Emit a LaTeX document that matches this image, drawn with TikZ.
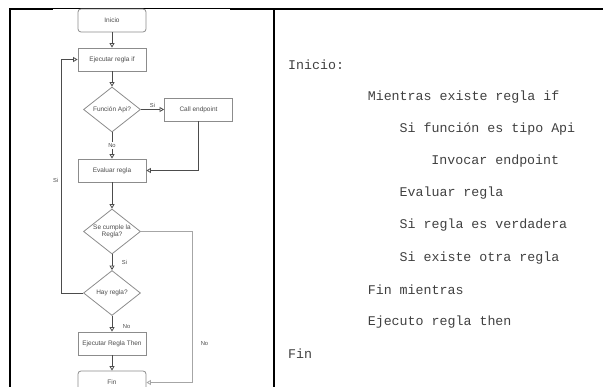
\documentclass[tikz,border=0pt]{standalone}
\usepackage{fontspec}
\setmainfont{Liberation Sans}
\newfontfamily\codefont{Liberation Mono}
\usetikzlibrary{positioning,shapes.geometric,arrows.meta}

\tikzset{
  procbox/.style={draw=black!45, line width=0.8pt, minimum width=68pt, minimum height=23pt,
    inner sep=1pt, font=\fontsize{6.5}{7.5}\selectfont, text=black!70},
  termbox/.style={procbox, rounded corners=3pt},
  decision/.style={diamond, draw=black!45, line width=0.8pt, minimum width=57pt, minimum height=45pt,
    inner sep=0pt, shape aspect=1.27, align=center, font=\fontsize{6.5}{7.5}\selectfont, text=black!70},
  flow/.style={draw=black!70, line width=0.8pt, -{Triangle[open,length=4.5pt,width=5pt]}},
  lbl/.style={font=\fontsize{5.8}{6.5}\selectfont, text=black!70, inner sep=1.5pt},
  codeline/.style={anchor=west, inner sep=0pt, font=\codefont\fontsize{13.3}{15}\selectfont, text=black!75}
}

\begin{document}
\begin{tikzpicture}[x=1pt,y=-1pt,on grid]
\useasboundingbox (0,0) rectangle (603,387);
\clip (0,0) rectangle (603,387);

% table frame
\draw[line width=2pt] (9,9.5) -- (53,9.5);
\draw[line width=0.9pt] (53,8.8) -- (230,8.8);
\draw[line width=2pt] (230,9.5) -- (603,9.5);
\draw[line width=2pt] (10,8.5) -- (10,387);
\draw[line width=2pt] (273.5,8.5) -- (273.5,387);

% flowchart
\node[termbox] (inicio) at (112,20.5) {Inicio};
\node[procbox, below=39pt of inicio] (ejecutar) {Ejecutar regla if};
\node[decision, below=50pt of ejecutar] (api) {Función Api?};
\node[procbox, right=86.5pt of api] (call) {Call endpoint};
\node[procbox, below=61pt of api] (evaluar) {Evaluar regla};
\node[decision, below=61pt of evaluar] (cumple) {\makebox[0pt]{Se cumple la}\\\makebox[0pt]{Regla?}};
\node[decision, below=61.5pt of cumple] (hay) {Hay regla?};
\node[procbox, below=50.5pt of hay] (regthen) {Ejecutar Regla Then};
\node[termbox, below=39pt of regthen] (fin) {Fin};

\draw[flow] (inicio) -- (ejecutar);
\draw[flow] (ejecutar) -- (api);
\draw[flow] (api) -- node[lbl, above] {Si} (call);
\draw[flow] (api) -- node[lbl, fill=white] {No} (evaluar);
\draw[flow] (call.south) |- (evaluar.east);
\draw[flow] (evaluar) -- (cumple);
\draw[flow] (cumple) -- node[lbl, right=8pt] {Si} (hay);
\draw[flow] (hay.west) -- ++(-22,0) coordinate (loopback) |- node[lbl, pos=0.24, left=1pt] {Si} (ejecutar.west);
\draw[flow] (hay) -- node[lbl, pos=0.7, right=9pt] {No} (regthen);
\draw[flow] (regthen) -- (fin);
\draw[flow, draw=black!35] (cumple.east) -- ++(51,0) coordinate (nopath) |- node[lbl, pos=0.37, right=7pt] {No} (fin.east);

% pseudocode
\foreach \ind/\txt [count=\i] in {0/Inicio:, 10/Mientras existe regla if, 14/Si función es tipo Api,
    18/Invocar endpoint, 14/Evaluar regla, 14/Si regla es verdadera, 14/Si existe otra regla,
    10/Fin mientras, 10/Ejecuto regla then, 0/Fin}
  \node[codeline] (code\i) at (288+\ind*7.96, 65+\i*32.1-32.1) {\txt};
\end{tikzpicture}
\end{document}
